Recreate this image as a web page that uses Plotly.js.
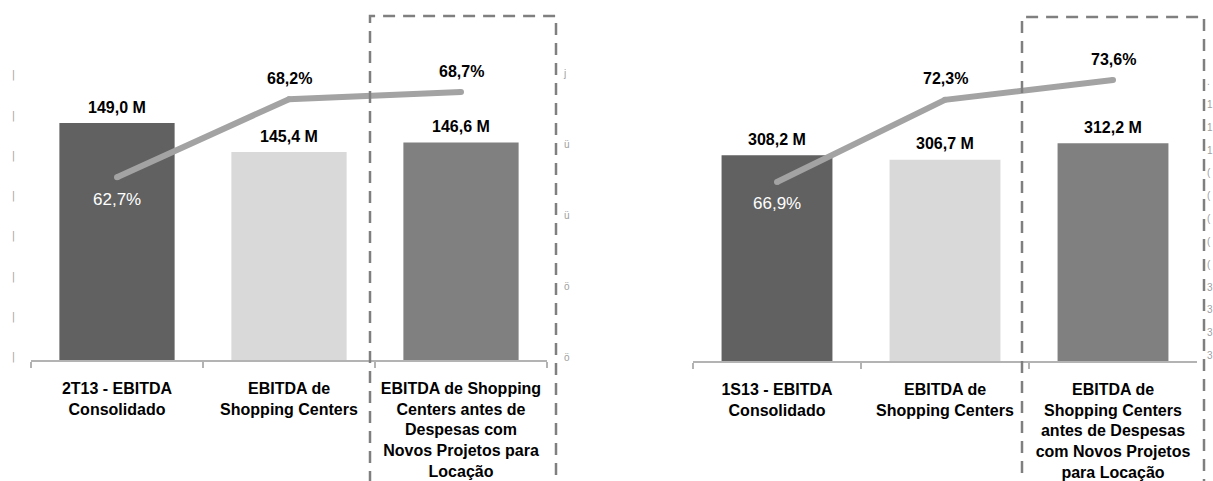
<!DOCTYPE html>
<html>
<head>
<meta charset="utf-8">
<script src="https://cdn.plot.ly/plotly-3.0.1.min.js"></script>
<style>
  html, body { margin: 0; padding: 0; background: #ffffff; }
  #chart { width: 1213px; height: 481px; }
</style>
</head>
<body>
<div id="chart"></div>
<script>
// Categories (full names) and their wrapped axis labels
const categoriasTri = [
  '2T13 - EBITDA Consolidado',
  'EBITDA de Shopping Centers',
  'EBITDA de Shopping Centers antes de Despesas com Novos Projetos para Locação'
];
const rotulosTri = [
  '2T13 - EBITDA<br>Consolidado',
  'EBITDA de<br>Shopping Centers',
  'EBITDA de Shopping<br>Centers antes de<br>Despesas com<br>Novos Projetos para<br>Locação'
];
const categoriasSem = [
  '1S13 - EBITDA Consolidado',
  'EBITDA de Shopping Centers',
  'EBITDA de Shopping Centers antes de Despesas com Novos Projetos para Locação'
];
const rotulosSem = [
  '1S13 - EBITDA<br>Consolidado',
  'EBITDA de<br>Shopping Centers',
  'EBITDA de<br>Shopping Centers<br>antes de Despesas<br>com Novos Projetos<br>para Locação'
];

// EBITDA (R$ milhões) and EBITDA margin (%)
const ebitdaTri = [149.0, 145.4, 146.6];
const margemTri = [62.7, 68.2, 68.7];
const ebitdaSem = [308.2, 306.7, 312.2];
const margemSem = [66.9, 72.3, 73.6];

// Secondary-axis tick values (labels are cut at the page edges)
const ticksEbitdaTri = [120, 125, 130, 135, 140, 145, 150, 155];
const ticksMargemTri = [50, 55, 60, 65, 70];
const ticksMargemSem = [55.5, 57, 58.5, 60, 61.5, 63, 64.5, 66, 67.5, 69, 70.5, 72, 73.5];

const corBarras = ['#616161', '#d9d9d9', '#808080'];
const corLinha = '#a3a3a3';
const W = 1213, H = 481;
const px = v => v / W;
const py = v => 1 - v / H;

const fmtM = v => v.toFixed(1).replace('.', ',') + ' M';
const fmtP = v => v.toFixed(1).replace('.', ',') + '%';

const fonte = 'Liberation Sans, Arial, sans-serif';

const traces = [
  {
    type: 'bar', x: categoriasTri, y: ebitdaTri, xaxis: 'x', yaxis: 'y',
    marker: { color: corBarras }, width: 0.67, hoverinfo: 'skip'
  },
  {
    type: 'scatter', mode: 'lines+markers', x: categoriasTri, y: margemTri,
    xaxis: 'x', yaxis: 'y2',
    line: { color: corLinha, width: 6 },
    marker: { color: corLinha, size: 6 }, hoverinfo: 'skip'
  },
  {
    type: 'bar', x: categoriasSem, y: ebitdaSem, xaxis: 'x2', yaxis: 'y3',
    marker: { color: corBarras }, width: 0.66, hoverinfo: 'skip'
  },
  {
    type: 'scatter', mode: 'lines+markers', x: categoriasSem, y: margemSem,
    xaxis: 'x2', yaxis: 'y4',
    line: { color: corLinha, width: 6 },
    marker: { color: corLinha, size: 6 }, hoverinfo: 'skip'
  }
];

const eixoX = (dom, anchor, cats, rots) => ({
  domain: dom, anchor: anchor, type: 'category',
  categoryorder: 'array', categoryarray: cats,
  tickvals: cats, ticktext: rots,
  showline: true, linecolor: '#b3b3b3', linewidth: 1.5,
  ticks: 'outside', tickson: 'boundaries', ticklen: 6, tickcolor: '#b3b3b3', tickwidth: 1.5,
  tickfont: { family: fonte, size: 16, color: '#000', weight: 'bold' },
  ticklabelstandoff: 13,
  showgrid: false, zeroline: false, fixedrange: true
});

const fragmento = (vals, txt) => vals.map(() => txt);

const layout = {
  width: W, height: H,
  margin: { l: 0, r: 0, t: 0, b: 0 },
  paper_bgcolor: '#ffffff', plot_bgcolor: 'rgba(0,0,0,0)',
  showlegend: false, bargap: 0.33,
  font: { family: fonte },
  xaxis: eixoX([px(31), px(547)], 'y', categoriasTri, rotulosTri),
  yaxis: {
    domain: [py(360), py(17)], anchor: 'x', range: [119.6, 162.16],
    showgrid: false, zeroline: false, showline: false, ticks: '',
    tickvals: ticksEbitdaTri, ticktext: fragmento(ticksEbitdaTri, '|'),
    tickfont: { family: 'DejaVu Sans, sans-serif', size: 10, color: '#a0a0a0' },
    ticklabelstandoff: 15, fixedrange: true
  },
  yaxis2: {
    overlaying: 'y', side: 'right', anchor: 'x', range: [49.8, 74.0],
    showgrid: false, zeroline: false, showline: false, ticks: '',
    tickvals: ticksMargemTri, ticktext: ['ö', 'ö', 'ü', 'ü', 'j'],
    tickfont: { family: fonte, size: 10, color: '#a0a0a0' },
    ticklabelstandoff: 16, fixedrange: true
  },
  xaxis2: eixoX([px(693), px(1197)], 'y3', categoriasSem, rotulosSem),
  yaxis3: {
    domain: [py(361), py(17)], anchor: 'x2', range: [239.6, 354.3],
    showgrid: false, zeroline: false, showline: false, ticks: '',
    showticklabels: false, fixedrange: true
  },
  yaxis4: {
    overlaying: 'y3', side: 'right', anchor: 'x2', range: [55.14, 77.74],
    showgrid: false, zeroline: false, showline: false, ticks: '',
    tickvals: ticksMargemSem,
    ticktext: ['3', '3', '3', '3', '(', '(', '(', '(', '(', '1', '1', '1', '.'],
    tickfont: { family: fonte, size: 10, color: '#a0a0a0' },
    ticklabelstandoff: 9, fixedrange: true
  },
  shapes: [
    {
      type: 'rect', xref: 'paper', yref: 'paper',
      x0: px(370), x1: px(556), y0: -0.1, y1: py(16),
      line: { color: '#7f7f7f', width: 2.5, dash: '12px,8px' }
    },
    {
      type: 'rect', xref: 'paper', yref: 'paper',
      x0: px(1022), x1: px(1204), y0: -0.1, y1: py(17),
      line: { color: '#7f7f7f', width: 2.5, dash: '12px,8px' }
    }
  ],
  annotations: []
};

// Value labels above bars
const rotuloBarra = (cats, vals, xr, yr) => cats.forEach((c, i) => {
  layout.annotations.push({
    x: c, y: vals[i], xref: xr, yref: yr, text: fmtM(vals[i]),
    showarrow: false, yanchor: 'middle', yshift: 16,
    font: { family: fonte, size: 16, color: '#000', weight: 'bold' }
  });
});
// Margin labels: first point inside the dark bar, the rest above the line
const rotuloMargem = (cats, vals, xr, yr) => cats.forEach((c, i) => {
  const dentro = i === 0;
  layout.annotations.push({
    x: c, y: vals[i], xref: xr, yref: yr, text: fmtP(vals[i]),
    showarrow: false, yanchor: 'middle', yshift: dentro ? -22 : 21,
    font: dentro
      ? { family: fonte, size: 17, color: '#ffffff' }
      : { family: fonte, size: 16, color: '#000', weight: 'bold' }
  });
});
rotuloBarra(categoriasTri, ebitdaTri, 'x', 'y');
rotuloMargem(categoriasTri, margemTri, 'x', 'y2');
rotuloBarra(categoriasSem, ebitdaSem, 'x2', 'y3');
rotuloMargem(categoriasSem, margemSem, 'x2', 'y4');

Plotly.newPlot('chart', traces, layout, { staticPlot: true, displayModeBar: false });
</script>
</body>
</html>
